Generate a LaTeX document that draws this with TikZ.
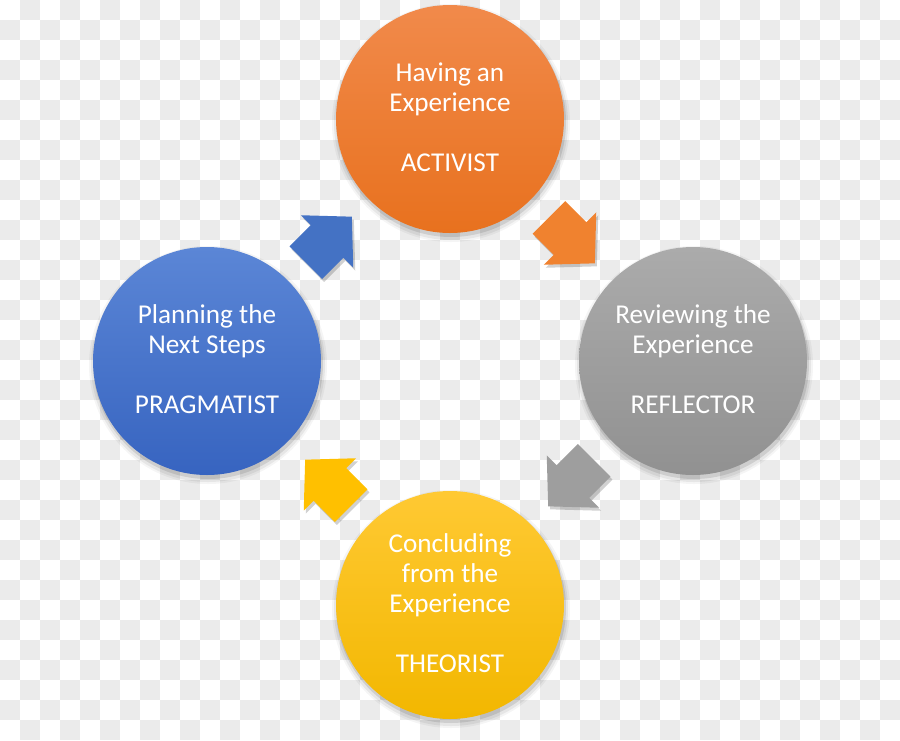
\documentclass[tikz,border=0pt]{standalone}
\usepackage{fontspec}
\setmainfont{Carlito}
\usetikzlibrary{calc}
\definecolor{chk}{HTML}{EBEBEB}
\definecolor{oTop}{HTML}{F18A4B}\definecolor{oBot}{HTML}{E8711E}
\definecolor{gTop}{HTML}{ABABAB}\definecolor{gBot}{HTML}{919191}
\definecolor{bTop}{HTML}{5B86D6}\definecolor{bBot}{HTML}{3764C0}
\definecolor{yTop}{HTML}{FFC933}\definecolor{yBot}{HTML}{F2B700}
\definecolor{oArr}{HTML}{F0822F}\definecolor{bArr}{HTML}{4472C4}
\definecolor{gArr}{HTML}{9E9E9E}\definecolor{yArr}{HTML}{FFC000}
\tikzset{
  bubble/.style={circle, minimum size=228pt, inner sep=0pt, text=white, align=center,
    font=\fontsize{27.2}{30}\selectfont}
}
\newcommand\arrowpath{(-32,23) -- (-2,23) -- (-2,37) -- (33,0) -- (-2,-37) -- (-2,-23) -- (-32,-23) -- cycle}
\newcommand\blockarrow[3]{%
  \begin{scope}[shift={($(#1)+(2,3)$)},rotate=#2]
    \fill[black,opacity=0.18] \arrowpath;
  \end{scope}
  \begin{scope}[shift={(#1)},rotate=#2]
    \fill[#3] \arrowpath;
  \end{scope}}
\newcommand\bubshadow[1]{%
  \fill[black,opacity=0.04] ($(#1)+(1,4)$) circle[radius=119pt];
  \fill[black,opacity=0.06] ($(#1)+(1,4)$) circle[radius=117pt];
  \fill[black,opacity=0.10] ($(#1)+(1,3)$) circle[radius=115pt];}
\begin{document}
\begin{tikzpicture}[x=1pt,y=-1pt]
\useasboundingbox (0,0) rectangle (900,740);
\fill[white] (0,0) rectangle (900,740);
\foreach \x in {20,60,...,880} \foreach \y in {0,40,...,720} \fill[chk] (\x,\y) rectangle ++(20,20);
\foreach \x in {0,40,...,880} \foreach \y in {20,60,...,700} \fill[chk] (\x,\y) rectangle ++(20,20);

\coordinate (pO) at (450,119);
\coordinate (pG) at (693,361);
\coordinate (pB) at (207,361);
\coordinate (pY) at (450,605);

\bubshadow{pO}
\bubshadow{pG}
\bubshadow{pB}
\bubshadow{pY}

\node[bubble, top color=oTop, bottom color=oBot] (o) at (pO) {Having an\\Experience\\\mbox{}\\ACTIVIST\vspace*{3pt}};
\node[bubble, top color=gTop, bottom color=gBot] (g) at (pG) {Reviewing the\\Experience\\\mbox{}\\REFLECTOR\vspace*{3pt}};
\node[bubble, top color=bTop, bottom color=bBot] (b) at (pB) {Planning the\\Next Steps\\\mbox{}\\PRAGMATIST\vspace*{3pt}};
\node[bubble, top color=yTop, bottom color=yBot] (y) at (pY) {Concluding\\from the\\Experience\\\mbox{}\\THEORIST\vspace*{3pt}};

\coordinate (aOG) at ($(o.center)!0.5!(g.center)$);
\coordinate (aGY) at ($(g.center)!0.5!(y.center)$);
\coordinate (aYB) at ($(y.center)!0.5!(b.center)$);
\coordinate (aBO) at ($(b.center)!0.5!(o.center)$);

\blockarrow{aOG}{-45}{oArr}
\blockarrow{aGY}{-135}{gArr}
\blockarrow{aYB}{135}{yArr}
\blockarrow{aBO}{45}{bArr}
\end{tikzpicture}
\end{document}
